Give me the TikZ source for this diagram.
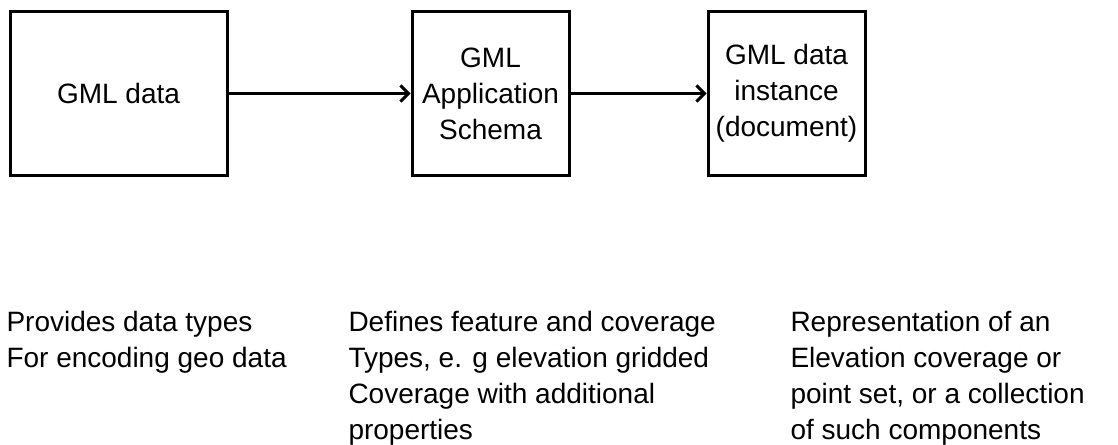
\documentclass[tikz,border=0pt]{standalone}
\usepackage{fontspec}
\setmainfont{Liberation Sans}
\usetikzlibrary{arrows.meta,positioning}

\begin{document}
\begin{tikzpicture}[x=1pt,y=-1pt,->,>={Straight Barb[length=8pt,width=16pt]},line width=3pt,node distance=182pt]
	\tikzstyle{every node}=[font=\fontsize{28}{36}\selectfont]
	\tikzstyle{box}=[draw,line width=3pt,align=center,minimum height=163pt,inner sep=0pt]
	\tikzstyle{note}=[align=left,anchor=north west,inner sep=0pt]

	\useasboundingbox (0,0) rectangle (1118,444);

	\node[box,minimum width=217pt] (gml) at (118.5,93.5) {GML data};
	\node[box,minimum width=157pt] (schema) [right=182pt of gml] {GML\\Application\\Schema};
	\node[box,minimum width=157pt] (inst) [right=136pt of schema] {GML data\\instance\\(document)};

	\path (gml) edge (schema);
	\path (schema) edge (inst);

	\node[note] (n1) at (5,310) {Provides data types\\For encoding geo data};
	\node[note] (n2) at (347,310) {Defines feature and coverage\\Types, e. g elevation gridded\\Coverage with additional\\properties};
	\node[note] (n3) at (789,310) {Representation of an\\Elevation coverage or\\point set, or a collection\\of such components};
\end{tikzpicture}
\end{document}
